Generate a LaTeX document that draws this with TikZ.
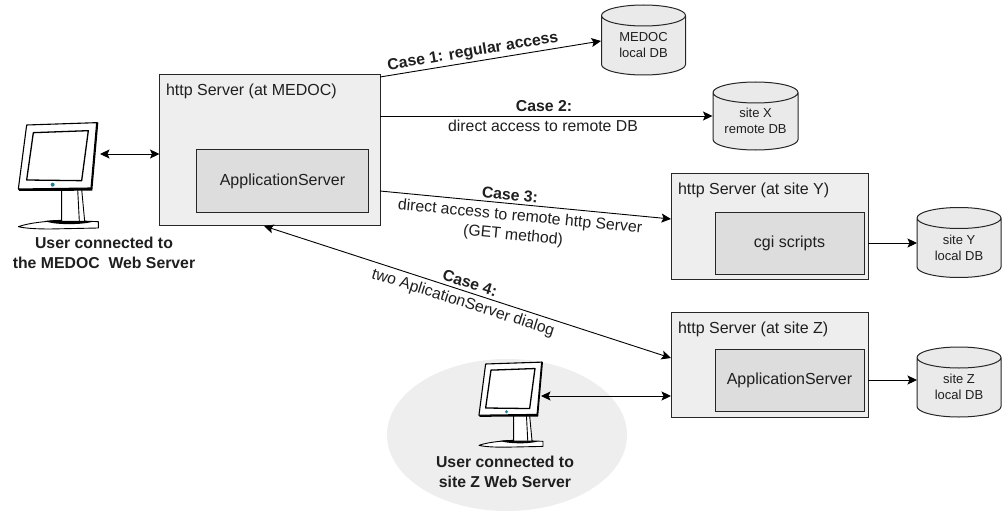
\documentclass[tikz,border=0pt]{standalone}
\usepackage{fontspec}
\setmainfont{Liberation Sans}
\usetikzlibrary{shapes.geometric,arrows.meta,calc}
\definecolor{boxouter}{HTML}{EEEEEE}
\definecolor{boxinner}{HTML}{DDDDDD}
\definecolor{dbfill}{HTML}{EAEAEA}
\definecolor{ledc}{HTML}{1F7F95}
\definecolor{edge}{HTML}{262626}
\newcommand\dbbody[1]{%
  \path let \p1=(#1.north west), \p2=(#1.south east), \n1={(\x2-\x1)/2} in
    [draw=edge,line width=1pt,fill=dbfill]
    ([yshift=-10.5pt]#1.north west) -- ([yshift=10.5pt]#1.south west)
    arc[start angle=180,end angle=360,x radius=\n1,y radius=10.5pt]
    -- ([yshift=-10.5pt]#1.north east)
    arc[start angle=0,end angle=180,x radius=\n1,y radius=10.5pt] -- cycle
    ([yshift=-10.5pt]#1.north west)
    arc[start angle=180,end angle=360,x radius=\n1,y radius=10.5pt];
}
\tikzset{
  every node/.style={inner sep=0pt,outer sep=0pt,text=black!88},
  outerbox/.style={draw=edge,line width=1pt,fill=boxouter,rectangle,minimum width=#1},
  innerbox/.style={draw=edge,line width=1pt,fill=boxinner,rectangle,minimum width=#1,font=\fontsize{16}{18}\selectfont},
  dbnode/.style={rectangle,minimum width=84pt,minimum height=70pt,align=center,font=\fontsize{13}{16}\selectfont},
  conn/.style={line width=0.9pt,draw=black,-{Stealth[length=9.5pt,width=9pt,inset=2pt]}},
  biconn/.style={line width=0.9pt,draw=black,{Stealth[length=9.5pt,width=9pt,inset=2pt]}-{Stealth[length=9.5pt,width=9pt,inset=2pt]}},
  boxtitle/.style={anchor=west,font=\fontsize{16}{18}\selectfont},
  lab/.style={font=\fontsize{15.8}{18}\selectfont,align=center},
  blab/.style={font=\bfseries\fontsize{15.8}{18}\selectfont,align=center},
  userlab/.style={font=\bfseries\fontsize{15.8}{20}\selectfont,align=center},
  ghost/.style={rectangle,draw=none,fill=none},
  pics/monitor/.style={code={
    \begin{scope}[scale=#1/3,line join=round]
      % base
      \draw[line width=.9pt,fill=white] (55,380) .. controls (90,368) and (135,364) .. (190,361) -- (295,365) -- (295,384) -- (150,387) .. controls (110,387) and (75,385) .. (55,380) -- cycle;
      \fill[black] (135,363) .. controls (170,358) and (250,358) .. (275,366) .. controls (240,375) and (160,375) .. (135,363) -- cycle;
      % neck
      \draw[line width=.9pt,fill=white] (185,268) -- (185,364) -- (254,364) -- (245,268) -- cycle;
      \draw[line width=.9pt] (233,268) -- (238,364);
      % bezel
      \fill[black] (55,268) -- (58,273) -- (277,272) -- (295,68) -- (290,66) -- cycle;
      \draw[line width=1.1pt,fill=white] (80,75) -- (290,68) -- (273,264) -- (55,267) -- cycle;
      \draw[line width=1.3pt,fill=white] (100,98) -- (265,92) -- (245,242) -- (80,240) -- cycle;
      \fill[ledc] (158,254) circle (6);
    \end{scope}
  }}
}
\begin{document}
\begin{tikzpicture}[x=1pt,y=-1pt]
\useasboundingbox (0,0) rectangle (1006,516);
\fill[white] (0,0) rectangle (1006,516);
% user ellipse
\node[ellipse,fill=boxouter,minimum width=240pt,minimum height=152pt] (zone) at (507,435) {};
% main server
\node[outerbox=221pt,minimum height=151.5pt] (main) at (270,150) {};
\node[boxtitle] (maint) at (166,91) {http Server (at MEDOC)};
\node[innerbox=171.5pt,minimum height=62.7pt] (mainapp) at (282.5,181.3) {ApplicationServer};
% site Y
\node[outerbox=197pt,minimum height=106pt] (siteY) at (769.5,226) {};
\node[boxtitle] (siteYt) at (678,190) {http Server (at site Y)};
\node[innerbox=149pt,minimum height=62pt] (cgi) at (789.5,243) {cgi scripts};
% site Z
\node[outerbox=197pt,minimum height=104.5pt] (siteZ) at (769.5,365.2) {};
\node[boxtitle] (siteZt) at (678,329) {http Server (at site Z)};
\node[innerbox=149pt,minimum height=62pt] (appZ) at (789.5,380) {ApplicationServer};
% databases: anchor nodes first, body, then the text
\path node[dbnode] (dbM) at (643.5,40) {} node[dbnode,minimum width=85pt,minimum height=68pt] (dbX) at (755.5,116) {}
      node[dbnode] (dbY) at (959,242.5) {} node[dbnode] (dbZ) at (959,382) {};
\dbbody{dbM}\dbbody{dbX}\dbbody{dbY}\dbbody{dbZ}
\node[dbnode] (dbMt) at (643.5,45) {MEDOC\\local DB};
\node[dbnode] (dbXt) at (755.5,120.5) {site X\\remote DB};
\node[dbnode] (dbYt) at (959,248) {site Y\\local DB};
\node[dbnode] (dbZt) at (959,386.5) {site Z\\local DB};
% monitors
\node[ghost,minimum width=80pt,minimum height=110pt] (mon1) at (60,154) {};
\pic at (0,100) {monitor=1};
\node[ghost,minimum width=62pt,minimum height=90pt] (mon2) at (510,396) {};
\pic at (464.3,344) {monitor=0.8};
\node[userlab] (u1) at (104,253) {User connected to\\the MEDOC\ \ Web Server};
\node[userlab] (u2) at (505,472) {User connected to\\site Z Web Server};
% anchors of slanted connectors
\coordinate (c1a) at (380,77);
\coordinate (c1b) at (601,41);
\coordinate (c2a) at (380,116);
\coordinate (c2b) at (712.5,116);
\coordinate (c3a) at (380,191);
\coordinate (c3b) at (671,219);
\coordinate (c4a) at (264,226);
\coordinate (c4b) at (671,358);
% connectors
\draw[biconn] (mon1.east) -- (mon1.east -| main.west);
\draw[conn] (c1a) -- (c1b);
\draw[conn] (c2a) -- (c2b);
\draw[conn] (c3a) -- (c3b);
\draw[biconn] (c4a) -- (c4b);
\draw[biconn] (mon2.east) -- (mon2.east -| siteZ.west);
\draw[conn] (cgi.east -| siteY.east) -- (dbY.west |- cgi.east);
\draw[conn] (appZ.east -| siteZ.east) -- (dbZ.west |- appZ.east);
% labels
\node[blab,rotate=9.5] (l1) at (473,52) {Case 1: regular access};
\node[blab] (l2a) at (544,106) {Case 2:};
\node[lab] (l2b) at (543,126) {direct access to remote DB};
\node[blab,rotate=-5.5] (l3a) at (510,195) {Case 3:};
\node[lab,rotate=-5.5] (l3b) at (520,217) {direct access to remote http Server};
\node[lab,rotate=-5.5] (l3c) at (513,236) {(GET method)};
\node[blab,rotate=-17.6] (l4a) at (470,283) {Case 4:};
\node[lab,rotate=-17.6] (l4b) at (463,303) {two AplicationServer dialog};
\end{tikzpicture}
\end{document}
